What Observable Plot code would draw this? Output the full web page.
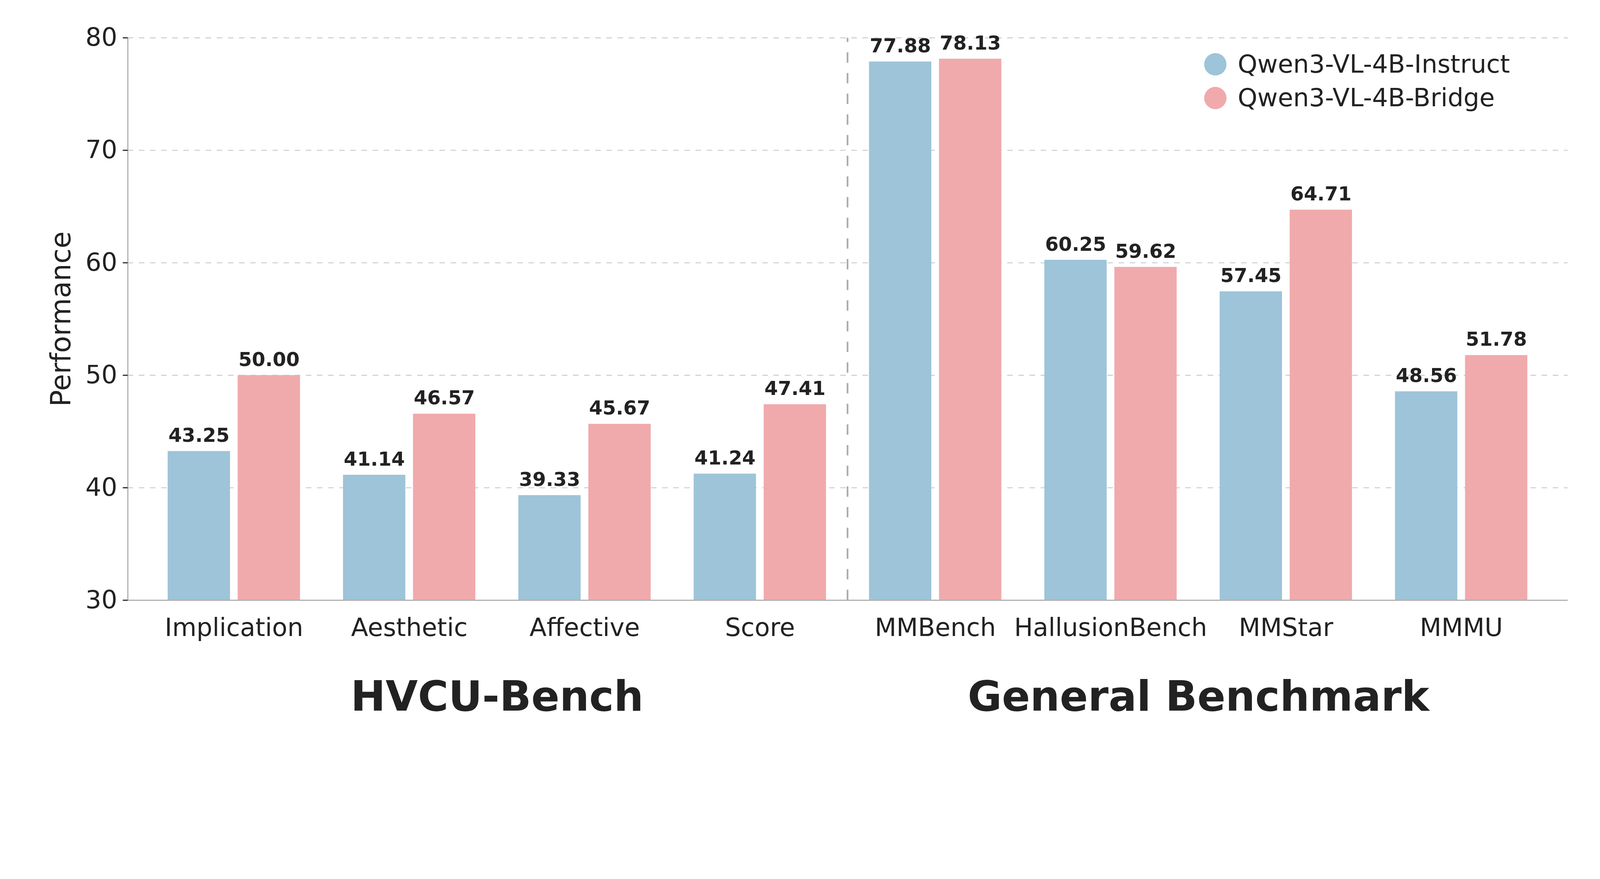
<!DOCTYPE html>
<html>
<head>
<meta charset="utf-8">
<script src="https://cdn.jsdelivr.net/npm/d3@7"></script>
<script src="https://cdn.jsdelivr.net/npm/@observablehq/plot@0.6"></script>
<style>
  html, body { margin: 0; padding: 0; background: #ffffff; overflow: hidden; }
  #chart { width: 100vw; }
  #chart svg { display: block; width: 100vw !important; max-width: none !important; height: auto !important; }
</style>
</head>
<body>
<div id="chart"></div>
<script>
// ---- data ----
const categories = ["Implication", "Aesthetic", "Affective", "Score", "MMBench", "HallusionBench", "MMStar", "MMMU"];
const series = ["Qwen3-VL-4B-Instruct", "Qwen3-VL-4B-Bridge"];
const instructValues = [43.25, 41.14, 39.33, 41.24, 77.88, 60.25, 57.45, 48.56];
const bridgeValues = [50.00, 46.57, 45.67, 47.41, 78.13, 59.62, 64.71, 51.78];
const groupNames = ["HVCU-Bench", "General Benchmark"];
const groupMembers = [categories.slice(0, 4), categories.slice(4)];
const yTicks = [30, 40, 50, 60, 70, 80];
const colors = ["#9DC4D8", "#F0AAAC"];

// ---- layout ----
const W = 4800, H = 2250;
const mL = 383, mR = 97, mT = 113, mB = 450;
const PI = 0.2444, PO = 0.2222;
const GAP = 22;

const band = d3.scaleBand(categories, [mL, W - mR]).paddingInner(PI).paddingOuter(PO).align(0.5);
const step = band.step();
const bw = band.bandwidth();
const barW = (bw - GAP) / 2;
const off = (barW + GAP) / 2;

const rows = [];
categories.forEach((c, i) => {
  rows.push({cat: c, series: series[0], value: instructValues[i]});
  rows.push({cat: c, series: series[1], value: bridgeValues[i]});
});
const rowsA = rows.filter(d => d.series === series[0]);
const rowsB = rows.filter(d => d.series === series[1]);
const groups = groupNames.map((n, i) => ({name: n, members: groupMembers[i]}));

const ink = "#222222";
const spine = "#b0b0b0";

const chart = Plot.plot({
  width: W,
  height: H,
  marginLeft: mL,
  marginRight: mR,
  marginTop: mT,
  marginBottom: mB,
  style: {fontFamily: "DejaVu Sans", fontSize: "75px", color: ink, background: "#ffffff", overflow: "visible"},
  x: {domain: categories, paddingInner: PI, paddingOuter: PO, align: 0.5, label: null},
  y: {domain: [yTicks[0], yTicks[yTicks.length - 1]], label: null},
  color: {domain: series, range: colors},
  marks: [
    Plot.gridY(yTicks, {stroke: "#cfcfcf", strokeOpacity: 1, strokeWidth: 3, strokeDasharray: "16.7,16.7"}),
    Plot.barY(rowsA, {x: "cat", y1: yTicks[0], y2: "value", fill: "series", insetLeft: 0, insetRight: barW + GAP}),
    Plot.barY(rowsB, {x: "cat", y1: yTicks[0], y2: "value", fill: "series", insetLeft: barW + GAP, insetRight: 0}),
    Plot.ruleX([categories[4]], {x: d => d, dx: -step / 2, y1: yTicks[0], y2: yTicks[yTicks.length - 1], stroke: "#aaaaaa", strokeWidth: 5, strokeDasharray: "31,31"}),
    Plot.text(rowsA, {x: "cat", y: "value", text: d => d.value.toFixed(2), dx: -off, dy: -28, lineAnchor: "bottom", fontSize: 58, fontWeight: "bold", fill: ink}),
    Plot.text(rowsB, {x: "cat", y: "value", text: d => d.value.toFixed(2), dx: off, dy: -28, lineAnchor: "bottom", fontSize: 58, fontWeight: "bold", fill: ink}),
    Plot.ruleY([yTicks[0]], {stroke: spine, strokeWidth: 3.5}),
    Plot.frame({anchor: "left", stroke: spine, strokeWidth: 3.5}),
    Plot.axisY({ticks: yTicks, tickFormat: "d", tickSize: 14.6, tickPadding: 17, fontSize: 75, strokeWidth: 3.3, label: null}),
    Plot.axisX({tickSize: 0, tickPadding: 54, fontSize: 75, label: null}),
    Plot.text(["Performance"], {frameAnchor: "left", rotate: -90, dx: -173, fontSize: 83, lineAnchor: "bottom", textAnchor: "middle", fill: ink}),
    Plot.text(groups, {x: d => d.members[1], text: "name", frameAnchor: "bottom", dx: step / 2, dy: 331, lineAnchor: "bottom", fontSize: 125, fontWeight: "bold", fill: ink})
  ]
});

document.getElementById("chart").appendChild(chart);

// ---- legend (upper right) ----
const svg = d3.select(chart);
const lg = svg.append("g")
  .attr("font-family", "DejaVu Sans")
  .attr("font-size", 75)
  .attr("fill", ink)
  .attr("text-anchor", "start");
const legendX = 3646, legendY0 = 193, legendDY = 101, legendR = 33.5;
series.forEach((s, i) => {
  const cy = legendY0 + i * legendDY;
  lg.append("circle").attr("cx", legendX).attr("cy", cy).attr("r", legendR).attr("fill", colors[i]);
  lg.append("text").attr("x", legendX + 67).attr("y", cy + 25).attr("text-anchor", "start").text(s);
});
</script>
</body>
</html>
